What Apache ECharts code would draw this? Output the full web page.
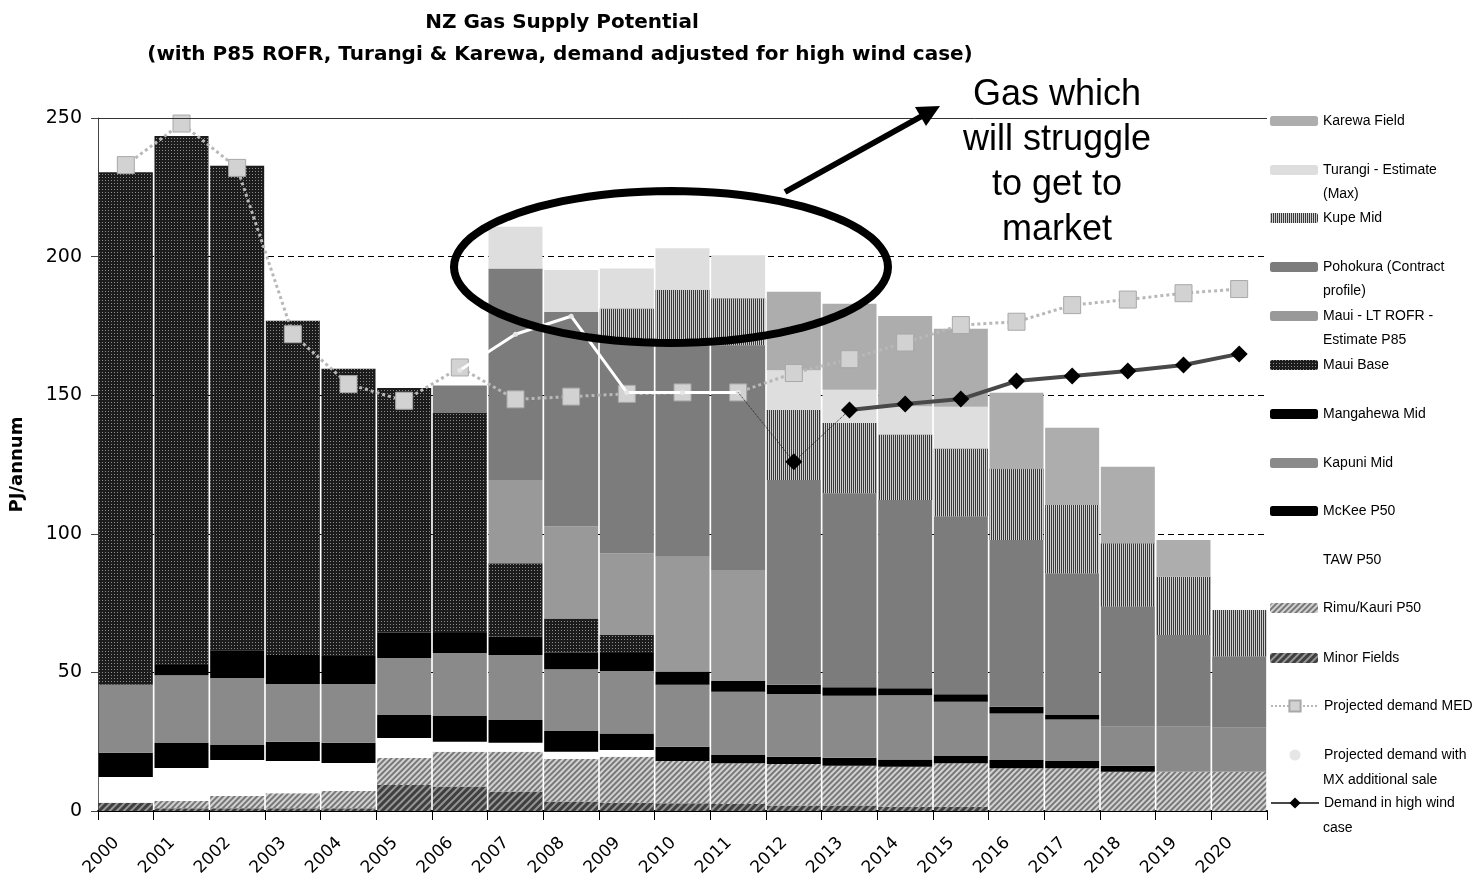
<!DOCTYPE html>
<html>
<head>
<meta charset="utf-8">
<title>NZ Gas Supply Potential</title>
<script src="https://cdn.jsdelivr.net/npm/echarts@6/dist/echarts.min.js"></script>
<style>
    html, body { margin: 0; padding: 0; background: #fff; }
    #chart { width: 1480px; height: 886px; }
</style>
</head>
<body>
<div id="chart"></div>
<script>
// categories
var years = ['2000', '2001', '2002', '2003', '2004', '2005', '2006', '2007', '2008', '2009', '2010',
    '2011', '2012', '2013', '2014', '2015', '2016', '2017', '2018', '2019', '2020'];

// supply by field, PJ/annum (stack order, bottom first)
var minorFields = [3, 1, 1, 1, 1, 9.4, 8.8, 7, 3.4, 3, 2.8, 2.5, 2, 2, 1.5, 1.5, 0, 0, 0, 0, 0];
var rimuKauri   = [0, 2.6, 4.4, 5.4, 6.2, 9.7, 12.6, 14.4, 15.4, 16.6, 15.2, 14.7, 15, 14.3, 14.5, 15.7, 15.4, 15.4, 14.2, 14.2, 14.2];
var taw         = [9.3, 11.9, 13, 11.6, 10.1, 7.2, 3.6, 3.2, 2.6, 2.4, 0, 0, 0, 0, 0, 0, 0, 0, 0, 0, 0];
var mckee       = [8.7, 9, 5.4, 7, 7.3, 8.3, 9.3, 8.2, 7.5, 6, 5.2, 3, 2.6, 2.9, 2.6, 2.6, 3, 2.6, 2.1, 0, 0];
var kapuni      = [24.5, 24.5, 24.2, 20.8, 21.2, 20.6, 22.7, 23.5, 22.2, 22.5, 22.3, 22.8, 22.6, 22.4, 23.2, 19.6, 16.8, 15, 14.1, 16.2, 15.8];
var mangahewa   = [0, 3.7, 10, 10.5, 10.1, 9.1, 7.2, 6.6, 6, 6.5, 4.8, 3.9, 3.3, 3, 2.5, 2.7, 2.4, 1.6, 0, 0, 0];
var mauiBase    = [184.9, 190.8, 174.8, 120.6, 103.6, 88.3, 79.4, 26.5, 12.3, 6.5, 0, 0, 0, 0, 0, 0, 0, 0, 0, 0, 0];
var mauiRofr    = [0, 0, 0, 0, 0, 0, 0, 30, 33.2, 29.4, 41.4, 40, 0, 0, 0, 0, 0, 0, 0, 0, 0];
var pohokura    = [0, 0, 0, 0, 0, 0, 9.9, 76.3, 77.4, 77.1, 77.1, 81.1, 73.9, 70, 67.9, 64.1, 60.2, 51.1, 43.3, 33.1, 25.7];
var kupe        = [0, 0, 0, 0, 0, 0, 0, 0, 0, 11.3, 19.2, 17, 25.3, 25.4, 23.6, 24.6, 25.8, 24.7, 22.9, 21, 16.8];
var turangi     = [0, 0, 0, 0, 0, 0, 0, 15.1, 15.2, 14.4, 15, 15.5, 14.3, 12, 10.2, 15, 0, 0, 0, 0, 0];
var karewa      = [0, 0, 0, 0, 0, 0, 0, 0, 0, 0, 0, 0, 28.3, 31, 32.6, 28.2, 27.3, 27.9, 27.6, 13.3, 0];

// demand lines
var demandMed = [233, 248, 232, 172, 154, 148, 160, 148.5, 149.5, 150.5, 151, 151, 158, 163, 169, 175.3, 176.5, 182.5, 184.5, 186.8, 188.3];
var demandMx = [null, null, null, null, null, null, 159, 172, 178.5, 151, 151, 151, null, null, null, null, null, null, null, null, null];
var demandHighWind = [null, null, null, null, null, null, null, null, null, null, null, 151, 126, 144.7, 146.8, 148.6, 155.1, 156.9, 158.7, 160.9, 164.9];

// y axis ticks
var yMin = 0, yMax = 250, yStep = 50;

var FONT = 'Liberation Sans, Arial, sans-serif';
var WIDE = 'DejaVu Sans, Verdana, sans-serif';

var chart = echarts.init(document.getElementById('chart'));

function barSeries(name, data, color, decal) {
    var s = {
        name: name,
        type: 'bar',
        stack: 'supply',
        barCategoryGap: '3%',
        data: data,
        itemStyle: { color: color },
        emphasis: { disabled: true }
    };
    if (decal) s.itemStyle.decal = decal;
    return s;
}

var series = [
    barSeries('Minor Fields', minorFields, '#3f3f3f',
        { symbol: 'rect', symbolSize: 1, dashArrayX: [1, 0], dashArrayY: [2, 3], rotation: -Math.PI / 4, color: 'rgba(255,255,255,0.45)' }),
    barSeries('Rimu/Kauri P50', rimuKauri, '#d2d2d2',
        { symbol: 'rect', symbolSize: 1, dashArrayX: [1, 0], dashArrayY: [2, 2], rotation: -Math.PI / 4, color: 'rgba(60,60,60,0.6)' }),
    barSeries('TAW P50', taw, '#ffffff'),
    barSeries('McKee P50', mckee, '#000000'),
    barSeries('Kapuni Mid', kapuni, '#8a8a8a'),
    barSeries('Mangahewa Mid', mangahewa, '#000000'),
    barSeries('Maui Base', mauiBase, '#1c1c1c',
        { symbol: 'rect', symbolSize: 1, dashArrayX: [1, 2], dashArrayY: [1, 2], color: '#8c8c8c' }),
    barSeries('Maui - LT ROFR - Estimate P85', mauiRofr, '#999999'),
    barSeries('Pohokura (Contract profile)', pohokura, '#7c7c7c'),
    barSeries('Kupe Mid', kupe, '#3a3a3a',
        { symbol: 'rect', symbolSize: 1, dashArrayX: [1, 1], dashArrayY: [4, 0], color: '#d0d0d0' }),
    barSeries('Turangi - Estimate (Max)', turangi, '#dedede'),
    barSeries('Karewa Field', karewa, '#adadad')
];

// solid frame line along the top of the plot
series[0].markLine = {
    silent: true,
    symbol: 'none',
    label: { show: false },
    lineStyle: { color: '#333', width: 1, type: 'solid' },
    data: [{ yAxis: yMax }]
};

series.push({
    name: 'Projected demand MED',
    type: 'line',
    z: 3,
    data: demandMed,
    symbol: 'rect',
    symbolSize: 17,
    lineStyle: { color: '#b8b8b8', width: 3, type: 'dotted' },
    itemStyle: { color: '#d2d2d2', borderColor: '#a8a8a8', borderWidth: 1 },
    emphasis: { disabled: true }
});
series.push({
    name: 'Projected demand with MX additional sale',
    type: 'line',
    z: 4,
    data: demandMx,
    symbol: 'circle',
    symbolSize: 5,
    lineStyle: { color: '#ffffff', width: 3 },
    itemStyle: { color: '#e6e6e6' },
    emphasis: { disabled: true }
});
series.push({
    name: 'Demand in high wind case',
    type: 'line',
    z: 5,
    data: demandHighWind.map(function (v, i) { return i >= 13 ? v : null; }),
    symbol: 'diamond',
    symbolSize: 17,
    lineStyle: { color: '#484848', width: 4 },
    itemStyle: { color: '#000000' },
    emphasis: { disabled: true }
});
// thin link into the 2012 dip
series.push({
    name: 'high wind link',
    type: 'line',
    z: 5,
    data: demandHighWind.map(function (v, i) {
        if (i < 11 || i > 13) return null;
        return i === 12 ? v : { value: v, symbol: 'none' };
    }),
    symbol: 'diamond',
    symbolSize: 17,
    lineStyle: { color: '#222', width: 1, type: 'dotted' },
    itemStyle: { color: '#000000' },
    emphasis: { disabled: true }
});

// legend, one block per entry so the rows line up with the picture
var legendNames = ['Karewa Field', 'Turangi - Estimate (Max)', 'Kupe Mid', 'Pohokura (Contract profile)',
    'Maui - LT ROFR - Estimate P85', 'Maui Base', 'Mangahewa Mid', 'Kapuni Mid', 'McKee P50', 'TAW P50',
    'Rimu/Kauri P50', 'Minor Fields', 'Projected demand MED', 'Projected demand with MX additional sale',
    'Demand in high wind case'];
// long names wrap: first line goes in the legend, the rest underneath
var legendWrap = {
    'Turangi - Estimate (Max)': ['Turangi - Estimate', '(Max)'],
    'Pohokura (Contract profile)': ['Pohokura (Contract', 'profile)'],
    'Maui - LT ROFR - Estimate P85': ['Maui - LT ROFR -', 'Estimate P85'],
    'Projected demand with MX additional sale': ['Projected demand with', 'MX additional sale'],
    'Demand in high wind case': ['Demand in high wind', 'case']
};
var legendRowY = [121, 170, 218, 267, 316, 365, 414, 463, 511, 560, 608, 658, 707, 756, 804];

var legends = legendNames.map(function (name, i) {
    var isLine = i >= 12;
    return {
        data: [name],
        left: 1270,
        top: legendRowY[i] - (isLine ? 13 : 12),
        padding: 0,
        itemWidth: 48,
        itemHeight: isLine ? 14 : 10,
        itemGap: 0,
        selectedMode: false,
        formatter: function (n) { return legendWrap[n] ? legendWrap[n][0] : n; },
        textStyle: { fontFamily: FONT, fontSize: 14, color: '#000', lineHeight: 24 }
    };
});

var graphics = [];
legendNames.forEach(function (name, i) {
    if (!legendWrap[name]) return;
    graphics.push({
        type: 'text',
        x: 1323, y: legendRowY[i] + 24,
        style: { text: legendWrap[name][1], font: '14px ' + FONT, fill: '#000', verticalAlign: 'middle' }
    });
});

// "Gas which will struggle to get to market" call-out
var ellipse = { cx: 671, cy: 267, rx: 217, ry: 76 };
var ellipsePts = [];
for (var k = 0; k < 96; k++) {
    var a = k / 96 * Math.PI * 2;
    ellipsePts.push([ellipse.cx + ellipse.rx * Math.cos(a), ellipse.cy + ellipse.ry * Math.sin(a)]);
}
graphics.push(
    {
        type: 'polygon', z: 100,
        shape: { points: ellipsePts },
        style: { fill: null, stroke: '#000', lineWidth: 8 }
    },
    {
        type: 'line', z: 100,
        shape: { x1: 785, y1: 192, x2: 922, y2: 116 },
        style: { stroke: '#000', lineWidth: 6 }
    },
    {
        type: 'polygon', z: 100,
        shape: { points: [[940, 106], [926, 126], [915, 107]] },
        style: { fill: '#000' }
    },
    {
        type: 'text', z: 100,
        x: 1057, y: 73,
        style: {
            text: 'Gas which\nwill struggle\nto get to\nmarket',
            font: '36px ' + FONT,
            lineHeight: 45,
            align: 'center',
            fill: '#000'
        }
    }
);

var option = {
    animation: false,
    backgroundColor: '#ffffff',
    title: [
        {
            text: 'NZ Gas Supply Potential',
            left: 557, top: 8, textAlign: 'center',
            textStyle: { fontFamily: WIDE, fontSize: 20, fontWeight: 'bold', color: '#000' }
        },
        {
            text: '(with P85 ROFR, Turangi & Karewa, demand adjusted for high wind case)',
            left: 555, top: 40, textAlign: 'center',
            textStyle: { fontFamily: WIDE, fontSize: 20, fontWeight: 'bold', color: '#000' }
        }
    ],
    legend: legends,
    grid: { left: 97, right: 213, top: 118, bottom: 75 },
    xAxis: {
        type: 'category',
        data: years,
        boundaryGap: true,
        axisLine: { lineStyle: { color: '#000', width: 2 } },
        axisTick: { show: true, length: 9, lineStyle: { color: '#000' } },
        axisLabel: { rotate: 45, fontFamily: WIDE, fontSize: 17, color: '#000', margin: 20, padding: [0, 13, 0, 0] },
        splitLine: { show: false }
    },
    yAxis: {
        type: 'value',
        min: yMin, max: yMax, interval: yStep,
        name: 'PJ/annum',
        nameLocation: 'middle',
        nameGap: 72,
        nameRotate: 90,
        nameTextStyle: { fontFamily: WIDE, fontSize: 18, fontWeight: 'bold', color: '#000' },
        axisLine: { show: true, lineStyle: { color: '#444', width: 1 } },
        axisTick: { show: true, length: 7, lineStyle: { color: '#444' } },
        axisLabel: { fontFamily: WIDE, fontSize: 19, color: '#000', margin: 16 },
        splitLine: { show: true, lineStyle: { color: '#000', type: [6, 4], width: 1 } }
    },
    series: series,
    graphic: graphics
};

chart.setOption(option);
</script>
</body>
</html>
